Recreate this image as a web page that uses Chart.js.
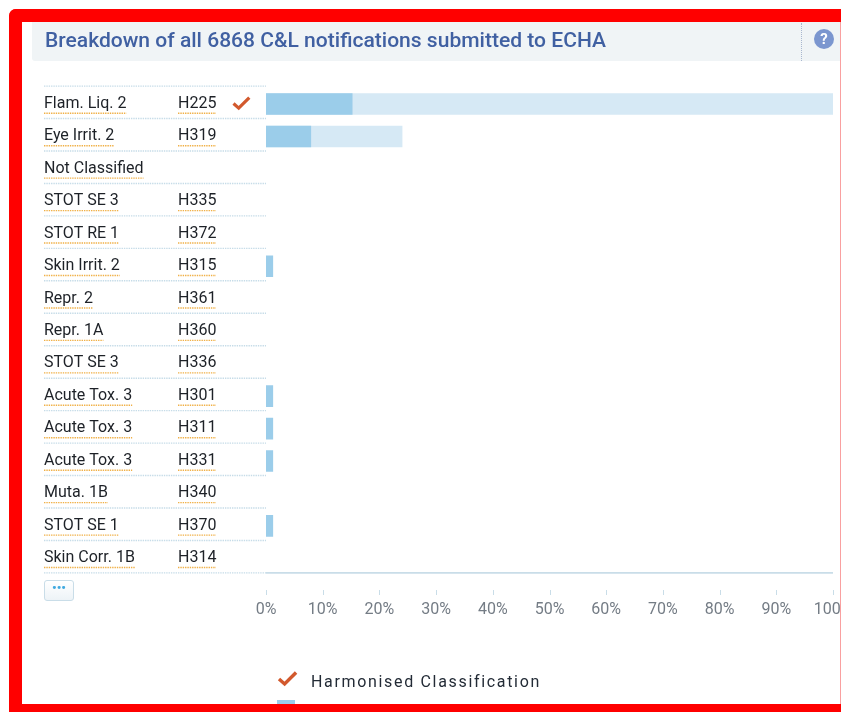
<!DOCTYPE html>
<html>
<head>
<meta charset="utf-8">
<title>Breakdown of C&amp;L notifications</title>
<script src="https://cdn.jsdelivr.net/npm/chart.js@4"></script>
<style>
html,body{margin:0;padding:0;background:#fff;overflow:hidden;width:841px;height:712px}
body{position:relative;font-family:Roboto,sans-serif}
#wrap{position:absolute;left:0;top:0;width:890px;height:712px;filter:blur(.4px)}
#frame{position:absolute;left:9px;top:9px;width:832px;height:703px;box-sizing:border-box;border:solid #f00;border-width:13px 0 8px 13px;border-radius:7px 0 0 0;z-index:5;pointer-events:none}
#edge{position:absolute;left:840px;top:22px;width:1px;height:682px;background:#f9a0a0;z-index:6}
#head{position:absolute;left:32px;top:22px;width:809px;height:39px;background:#f0f4f6;border-radius:0 0 0 3px;z-index:2;filter:blur(.4px)}
#title{position:absolute;left:13px;top:3px;line-height:29px;font-size:21.05px;font-weight:500;color:#4060a2;white-space:nowrap}
#div{position:absolute;left:769px;top:1px;height:38px;border-left:1px dotted #a9b7cf}
#help{position:absolute;left:782px;top:7px;width:20px;height:20px;border-radius:50%;background:#7b96cf;color:#fff;font:bold 15px/20px Roboto,sans-serif;text-align:center}
#more{position:absolute;left:44px;top:580px;width:30px;height:21px;box-sizing:border-box;border:1px solid #c9dde8;border-radius:3px;background:linear-gradient(#fff,#edf3f7);color:#3fa9e0;font:bold 13px/13px Roboto,sans-serif;text-align:center;z-index:2}
#leg{position:absolute;left:311px;top:672px;font-size:16px;line-height:20px;letter-spacing:1.67px;color:#232b36;white-space:nowrap;z-index:2;filter:blur(.4px)}
canvas{display:block}
</style>
</head>
<body>
<div id="wrap"><canvas id="c" width="890" height="712"></canvas></div>
<div id="head"><div id="title">Breakdown of all 6868 C&amp;L notifications submitted to ECHA</div><div id="div"></div><div id="help">?</div></div>
<div id="more">•••</div>
<div id="leg">Harmonised Classification</div>
<div id="frame"></div>
<div id="edge"></div>
<script>
const classes = ["Flam. Liq. 2","Eye Irrit. 2","Not Classified","STOT SE 3","STOT RE 1","Skin Irrit. 2","Repr. 2","Repr. 1A","STOT SE 3","Acute Tox. 3","Acute Tox. 3","Acute Tox. 3","Muta. 1B","STOT SE 1","Skin Corr. 1B"];
const codes = ["H225","H319","","H335","H372","H315","H361","H360","H336","H301","H311","H331","H340","H370","H314"];
const harmonised = [true,false,false,false,false,false,false,false,false,false,false,false,false,false,false];
const darkValues = [15.2,7.9,null,null,null,1.2,null,null,null,1.2,1.2,1.2,null,1.2,null];
const lightValues = [100,24,null,null,null,null,null,null,null,null,null,null,null,null,null];
const xTicks = [0,10,20,30,40,50,60,70,80,90,100];
const legendLabel = "Harmonised Classification";

const FONT = '16px Roboto, sans-serif';
const SEP = '#c6dce8', ORANGE = '#f0b046', CHECK = '#d2592d';

function dotted(ctx,x1,x2,y,color){
  ctx.save();ctx.strokeStyle=color;ctx.lineWidth=1.4;ctx.setLineDash([1.4,0.95]);
  ctx.beginPath();ctx.moveTo(x1,y);ctx.lineTo(x2,y);ctx.stroke();ctx.restore();
}
function check(ctx,x,y,s){
  ctx.save();ctx.strokeStyle=CHECK;ctx.lineWidth=3.2*s;ctx.lineCap='butt';ctx.lineJoin='miter';
  ctx.beginPath();ctx.moveTo(x,y+6*s);ctx.lineTo(x+5.2*s,y+10.6*s);ctx.lineTo(x+15.8*s,y);ctx.stroke();ctx.restore();
}
const extras = {
  id:'extras',
  afterDatasetsDraw(chart){
    const ctx=chart.ctx, ys=chart.scales.y, xs=chart.scales.x;
    const L=44, R=ys.right, band=ys.height/classes.length;
    ctx.save();
    ctx.font=FONT;ctx.textBaseline='middle';ctx.textAlign='left';
    for(let i=0;i<classes.length;i++){
      const c=ys.getPixelForTick(i);
      const top=c-band/2-1.7, bot=c+band/2-1.7;
      if(i===0) dotted(ctx,L,R,top,SEP);
      dotted(ctx,L,R,bot,SEP);
      const wc=ctx.measureText(classes[i]).width;
      dotted(ctx,L,L+wc,c+9.2,ORANGE);
      if(codes[i]){
        ctx.fillStyle='#1d2127';
        ctx.fillText(codes[i],178,c-0.2);
        dotted(ctx,178,216,c+9.2,ORANGE);
      }
      if(harmonised[i]) check(ctx,233.5,c-6.5,1);
    }
    const axisY=ys.bottom-1.7;
    ctx.strokeStyle='#c9dde8';ctx.lineWidth=1.6;
    ctx.beginPath();ctx.moveTo(R,axisY);ctx.lineTo(xs.right,axisY);ctx.stroke();
    ctx.lineWidth=1;
    xTicks.forEach(v=>{
      const px=Math.round(xs.getPixelForValue(v))+0.5;
      ctx.beginPath();ctx.moveTo(px,590);ctx.lineTo(px,595);ctx.stroke();
    });
    check(ctx,279,672.5,1.08);
    ctx.fillStyle=chart.data.datasets[0].backgroundColor;
    ctx.fillRect(277,700,18,10);
    ctx.restore();
  }
};
new Chart(document.getElementById('c'),{
  type:'bar',
  data:{labels:classes,datasets:[
    {label:'Share A',data:darkValues,backgroundColor:'#9bcdea',order:1,barThickness:21,grouped:false},
    {label:'Share B',data:lightValues,backgroundColor:'#d6e9f5',order:2,barThickness:21,grouped:false}
  ]},
  plugins:[extras],
  options:{
    indexAxis:'y',responsive:false,animation:false,
    layout:{padding:{left:44,right:57,top:87.8,bottom:0}},
    plugins:{legend:{display:false},tooltip:{enabled:false},title:{display:false}},
    scales:{
      x:{min:0,max:100,position:'bottom',
        afterBuildTicks(s){s.ticks=xTicks.map(v=>({value:v}));},
        afterFit(s){s.height=137.4;},
        border:{display:false},grid:{display:false},
        ticks:{autoSkip:false,maxRotation:0,padding:18,color:'#747c85',font:{family:'Roboto',size:16},callback:v=>v+'%'}},
      y:{position:'left',
        afterFit(s){s.width=222;},
        border:{display:false},grid:{display:false},
        ticks:{autoSkip:false,crossAlign:'far',labelOffset:-0.2,padding:0,color:'#1d2127',font:{family:'Roboto',size:16}}}
    }
  }
});
</script>
</body>
</html>
